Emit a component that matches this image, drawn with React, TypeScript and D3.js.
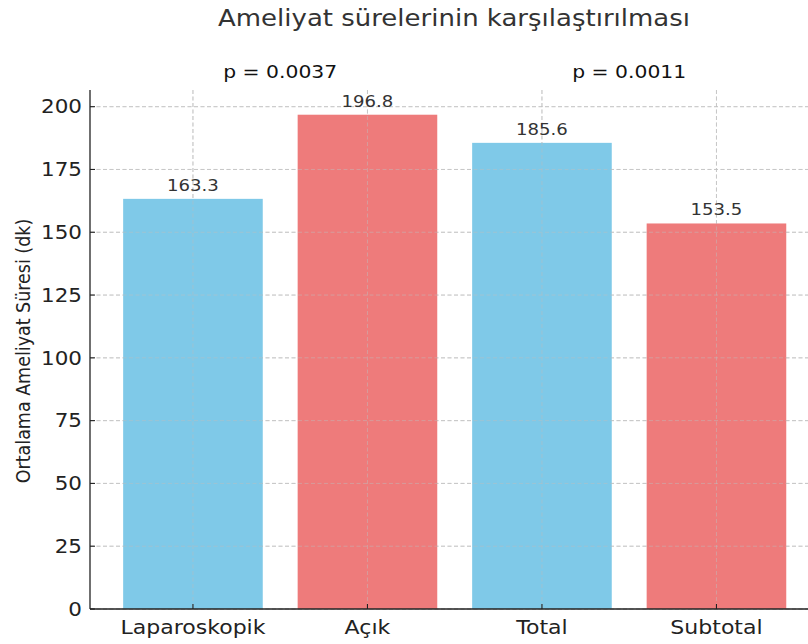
import React, { useEffect, useRef } from "react";
import * as d3 from "d3";

const categories = ["Laparoskopik", "Açık", "Total", "Subtotal"];
const values = [163.3, 196.8, 185.6, 153.5];
const colors = ["#7fc9e8", "#ee7b7b", "#7fc9e8", "#ee7b7b"];
const yTicks = [0, 25, 50, 75, 100, 125, 150, 175, 200];
const pLabels = ["p = 0.0037", "p = 0.0011"];
const pPairs = [[0, 1], [2, 3]];

export default function App() {
  const svgRef = useRef<SVGSVGElement>(null);

  useEffect(() => {
    const width = 808, height = 644;
    const left = 90, bottom = 609, top = 90;
    const sx = 1.13; // the picture's text is a bit wider than tall
    const svg = d3.select(svgRef.current);
    svg.selectAll("*").remove();
    svg.attr("width", width).attr("height", height);

    const font = "DejaVu Sans, sans-serif";
    const step = 174.5;
    // x in category units: xlim -0.59 .. 3.59 (right side cropped)
    const x = d3.scaleLinear().domain([-0.59, 3.59]).range([left, left + 4.18 * step]);
    const yMax = 196.8 * 1.05;
    const y = d3.scaleLinear().domain([0, yMax]).range([bottom, top]);

    const g = svg.append("g");
    const place = (px: number, py: number) => `translate(${px},${py}) scale(${sx},1)`;

    const gridLines = (cls: string, color: string, op: number) => {
      g.selectAll("." + cls + "h").data(yTicks).enter().append("line")
        .attr("x1", left).attr("x2", width)
        .attr("y1", d => y(d)).attr("y2", d => y(d))
        .attr("stroke", color).attr("stroke-opacity", op).attr("stroke-width", 0.9).attr("stroke-dasharray", "4,2.5");
      g.selectAll("." + cls + "v").data(categories).enter().append("line")
        .attr("x1", (d, i) => x(i)).attr("x2", (d, i) => x(i))
        .attr("y1", top).attr("y2", bottom)
        .attr("stroke", color).attr("stroke-opacity", op).attr("stroke-width", 0.9).attr("stroke-dasharray", "4,2.5");
    };

    gridLines("g1", "#c8c8c8", 1);

    // bars
    g.selectAll(".bar").data(values).enter().append("rect")
      .attr("x", (d, i) => x(i - 0.4))
      .attr("width", x(0.4) - x(-0.4))
      .attr("y", d => y(d))
      .attr("height", d => bottom - y(d))
      .attr("fill", (d, i) => colors[i]);

    gridLines("g2", "#bdbdbd", 0.55);

    // value labels
    g.selectAll(".val").data(values).enter().append("text")
      .attr("transform", (d, i) => place(x(i), y(d) - 8))
      .attr("text-anchor", "middle")
      .attr("font-family", font).attr("font-size", 16).attr("fill", "#333")
      .text(d => d.toFixed(1));

    // p-values
    g.selectAll(".pval").data(pLabels).enter().append("text")
      .attr("transform", (d, i) => place((x(pPairs[i][0]) + x(pPairs[i][1])) / 2, 78))
      .attr("text-anchor", "middle")
      .attr("font-family", font).attr("font-size", 18).attr("fill", "#111")
      .text(d => d);

    // axes spines
    g.append("line").attr("x1", left).attr("x2", left).attr("y1", top).attr("y2", bottom)
      .attr("stroke", "#222").attr("stroke-width", 1.3);
    g.append("line").attr("x1", left).attr("x2", width).attr("y1", bottom).attr("y2", bottom)
      .attr("stroke", "#222").attr("stroke-width", 1.3);

    // y ticks (inward)
    g.selectAll(".ytick").data(yTicks).enter().append("line")
      .attr("x1", left).attr("x2", left + 5)
      .attr("y1", d => y(d)).attr("y2", d => y(d))
      .attr("stroke", "#222").attr("stroke-width", 1.1);
    g.selectAll(".ylab").data(yTicks).enter().append("text")
      .attr("transform", d => place(left - 8, y(d)))
      .attr("dy", "0.35em").attr("text-anchor", "end")
      .attr("font-family", font).attr("font-size", 19).attr("fill", "#222")
      .text(d => d);

    // x ticks (inward)
    g.selectAll(".xtick").data(categories).enter().append("line")
      .attr("x1", (d, i) => x(i)).attr("x2", (d, i) => x(i))
      .attr("y1", bottom).attr("y2", bottom - 5)
      .attr("stroke", "#222").attr("stroke-width", 1.1);
    g.selectAll(".xlab").data(categories).enter().append("text")
      .attr("transform", (d, i) => place(x(i), bottom + 25))
      .attr("text-anchor", "middle")
      .attr("font-family", font).attr("font-size", 19.5).attr("fill", "#222")
      .text(d => d);

    // y axis label
    g.append("text")
      .attr("transform", `translate(30, 351) scale(${sx},1) rotate(-90)`)
      .attr("text-anchor", "middle")
      .attr("font-family", font).attr("font-size", 17.5).attr("fill", "#222")
      .text("Ortalama Ameliyat Süresi (dk)");

    // title
    g.append("text")
      .attr("transform", place(454, 26))
      .attr("text-anchor", "middle")
      .attr("font-family", font).attr("font-size", 23).attr("fill", "#333")
      .text("Ameliyat sürelerinin karşılaştırılması");
  }, []);

  return (
    <div style={{ position: "absolute", left: 0, top: 0, background: "#fff" }}>
      <svg ref={svgRef}></svg>
    </div>
  );
}
